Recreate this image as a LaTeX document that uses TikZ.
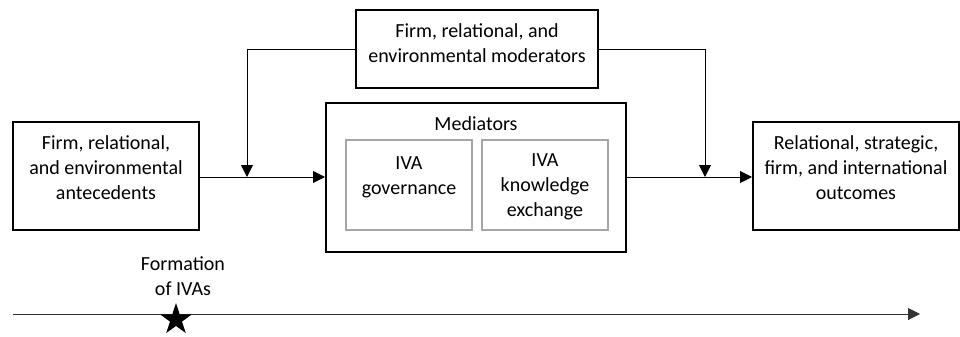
\documentclass[tikz,border=0pt]{standalone}
\usepackage{fontspec}
\setmainfont{Carlito}
\usetikzlibrary{arrows.meta,positioning,shapes.geometric}
\definecolor{ink}{HTML}{000000}
\definecolor{frame}{HTML}{A6A6A6}
\definecolor{axis}{HTML}{333333}

\begin{document}
\begin{tikzpicture}[x=0.5pt,y=-0.5pt,font=\fontsize{10}{12.5}\selectfont,
  blk/.style={draw=ink,line width=1pt,inner sep=0pt},
  gbox/.style={draw=frame,line width=1pt,inner sep=0pt,minimum width=63pt,minimum height=45pt},
  txt/.style={align=center,inner sep=0pt,text=ink},
  link/.style={draw=ink,line width=0.5pt,-{Triangle[length=6pt,width=6pt]}}]
  \useasboundingbox (0,0) rectangle (960,337);
  % boxes
  \node[blk,minimum width=93pt,minimum height=54pt] (ante) at (106,176) {};
  \node[blk,minimum width=121pt,minimum height=39pt] (moder) at (477,49) {};
  \node[blk,minimum width=150pt,minimum height=74.5pt] (medi) at (476,177.5) {};
  \node[gbox] (gov) at (409,185) {};
  \node[gbox] (know) at (545,185) {};
  \node[blk,minimum width=103pt,minimum height=54pt] (outc) at (856,176) {};
  % texts
  \node[txt] (ante-t) at (106,168) {Firm, relational,\\and environmental\\antecedents};
  \node[txt] (moder-t) at (477,43.5) {Firm, relational, and\\environmental moderators};
  \node[txt] (medi-t) at (476,124) {Mediators};
  \node[txt] (gov-t) at (409,177.5) {IVA\\governance};
  \node[txt] (know-t) at (545,187) {IVA\\knowledge\\exchange};
  \node[txt] (outc-t) at (856,168) {Relational, strategic,\\firm, and international\\outcomes};
  % main path
  \coordinate (jl) at (247,177);
  \coordinate (jr) at (705,177);
  \draw[link] (ante.east |- jl) -- (medi.west |- jl);
  \draw[link] (medi.east |- jr) -- (outc.west |- jr);
  % moderating links
  \draw[link] (moder.west) -| (jl);
  \draw[link] (moder.east) -| (jr);
  % time line
  \coordinate (t0) at (13,314);
  \coordinate (t1) at (920,314);
  \draw[axis,line width=0.5pt,-{Triangle[length=6pt,width=6pt]}] (t0) -- (t1);
  \node[star,star points=5,star point ratio=2.618,fill=ink,inner sep=0pt,minimum size=16.6pt] (form) at (176,319.6) {};
  \node[txt] (form-t) at (183,276.5) {Formation\\of IVAs};
\end{tikzpicture}
\end{document}
